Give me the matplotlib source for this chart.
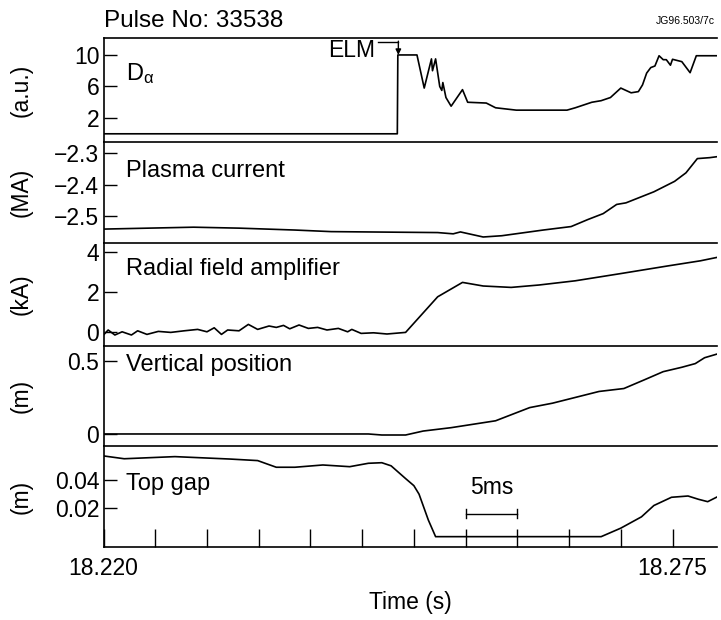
import matplotlib
matplotlib.use("Agg")
import matplotlib.pyplot as plt

plt.rcParams['font.family'] = ['Liberation Sans', 'DejaVu Sans']
plt.rcParams['mathtext.default'] = 'regular'

# ---- data (time in s) ----
t_da = [18.2200, 18.2484, 18.24845, 18.2503, 18.2510, 18.2517, 18.2518, 18.2521,
        18.2525, 18.2527, 18.2528, 18.2531, 18.2536, 18.2547, 18.2552, 18.2570,
        18.2579, 18.2599, 18.2648, 18.2656, 18.2672, 18.2681, 18.2690, 18.2700,
        18.2710, 18.2717, 18.2721, 18.2725, 18.2729, 18.2733, 18.2737, 18.2741,
        18.2744, 18.2748, 18.2750, 18.2759, 18.2767, 18.2773, 18.2793]
da = [0.0, 0.0, 10.0, 10.0, 5.8, 9.5, 8.0, 9.5,
      6.0, 5.5, 6.5, 4.6, 3.5, 5.6, 4.0, 3.9,
      3.3, 3.0, 3.0, 3.3, 4.0, 4.2, 4.6, 5.8,
      5.2, 5.35, 6.2, 7.7, 8.4, 8.6, 9.9, 9.4,
      9.4, 8.7, 9.45, 9.15, 7.75, 9.9, 9.9]

t_ip = [18.2200, 18.2287, 18.2331, 18.2385, 18.2420, 18.2523, 18.2538, 18.2545,
        18.2567, 18.2585, 18.2625, 18.2652, 18.2668, 18.2683, 18.2696, 18.2705,
        18.2732, 18.2752, 18.2763, 18.2774, 18.2786, 18.2793]
ip = [-2.540, -2.534, -2.537, -2.543, -2.548, -2.551, -2.555, -2.549,
      -2.565, -2.561, -2.543, -2.532, -2.510, -2.491, -2.462, -2.457,
      -2.422, -2.389, -2.362, -2.317, -2.314, -2.311]

t_rf = [18.2200, 18.22045, 18.2211, 18.2218, 18.2227, 18.2233, 18.2242, 18.2253,
        18.2265, 18.2278, 18.2291, 18.2300, 18.2307, 18.2314, 18.2320, 18.2331,
        18.2340, 18.2349, 18.2360, 18.2367, 18.2374, 18.2380, 18.2389, 18.2398,
        18.2407, 18.2416, 18.2427, 18.2436, 18.2440, 18.2449, 18.2461, 18.2474,
        18.2492, 18.2523, 18.2547, 18.2567, 18.2594, 18.2621, 18.2656, 18.2701,
        18.2745, 18.2777, 18.2793]
rf = [-0.13, 0.12, -0.13, 0.03, -0.13, 0.08, -0.10, 0.05,
      0.0, 0.08, 0.15, 0.03, 0.23, -0.10, 0.12, 0.08,
      0.40, 0.15, 0.32, 0.25, 0.35, 0.18, 0.37, 0.20,
      0.25, 0.12, 0.20, 0.03, 0.15, -0.05, -0.02, -0.08,
      0.0, 1.78, 2.5, 2.32, 2.25, 2.37, 2.58, 2.95,
      3.32, 3.58, 3.75]

t_zp = [18.2200, 18.2456, 18.2469, 18.2492, 18.2509, 18.2536, 18.2579, 18.2612,
        18.2634, 18.2679, 18.2703, 18.2723, 18.2741, 18.2759, 18.2772, 18.2781,
        18.2793]
zp = [0.0, 0.0, -0.007, -0.007, 0.02, 0.043, 0.09, 0.18,
      0.21, 0.29, 0.31, 0.37, 0.425, 0.455, 0.48, 0.52,
      0.545]

t_gap = [18.2200, 18.2220, 18.2269, 18.2322, 18.2349, 18.2367, 18.2385, 18.2412,
         18.2438, 18.2456, 18.2469, 18.2478, 18.2492, 18.2500, 18.2505, 18.2514,
         18.2521, 18.2681, 18.2700, 18.2720, 18.2732, 18.2749, 18.2765, 18.2775,
         18.2784, 18.2793]
gap = [0.057, 0.055, 0.0565, 0.0548, 0.0537, 0.049, 0.049, 0.0506,
       0.0494, 0.0518, 0.0522, 0.050, 0.041, 0.036, 0.030, 0.0117,
       0.0, 0.0, 0.006, 0.014, 0.022, 0.0278, 0.0287, 0.0264,
       0.0247, 0.028]

series = [(t_da, da), (t_ip, ip), (t_rf, rf), (t_zp, zp), (t_gap, gap)]
names = ['D$_{\\alpha}$', 'Plasma current', 'Radial field amplifier',
         'Vertical position', 'Top gap']
units = ['(a.u.)', '(MA)', '(kA)', '(m)', '(m)']
yticks = [[10, 6, 2], [-2.3, -2.4, -2.5], [4, 2, 0], [0.5, 0], [0.04, 0.02]]
yticklabels = [['10', '6', '2'], ['\u22122.3', '\u22122.4', '\u22122.5'],
               ['4', '2', '0'], ['0.5', '0'], ['0.04', '0.02']]
ylims = [(-1.04, 12.15), (-2.584, -2.2645), (-0.68, 4.47), (-0.082, 0.6),
         (-0.0073, 0.064)]
name_y = [0.66, 0.71, 0.75, 0.81, 0.62]
xticks = [18.220 + 0.005 * i for i in range(12)]

W, H = 721, 620
fig = plt.figure(figsize=(W / 100, H / 100), dpi=100)

# panel edges in pixels
edges = [38, 142, 243, 346, 446, 547]
left, right = 103.5, 717
axes = []
for i in range(5):
    top, bot = edges[i], edges[i + 1]
    ax = fig.add_axes([left / W, 1 - bot / H, (right - left) / W, (bot - top) / H])
    t, v = series[i]
    ax.plot(t, v, color='black', lw=1.2)
    ax.set_xlim(18.220, 18.2793)
    ax.set_ylim(*ylims[i])
    ax.set_yticks(yticks[i])
    ax.set_yticklabels(yticklabels[i])
    ax.tick_params(axis='y', direction='in', length=9, width=1, pad=3, labelsize=16.5)
    ax.spines['right'].set_visible(False)
    for s in ['left', 'top', 'bottom']:
        ax.spines[s].set_linewidth(1.2)
    if i < 4:
        ax.spines['bottom'].set_visible(False)
        ax.set_xticks([])
    ax.text(0.037, name_y[i], names[i], transform=ax.transAxes, fontsize=17,
            va='center', ha='left')
    ax.set_ylabel(units[i], fontsize=16.5)
    ax.yaxis.set_label_coords(-0.116, 0.5)
    axes.append(ax)

# bottom time axis
ax = axes[-1]
ax.set_xticks(xticks)
ax.set_xticklabels(['18.220'] + [''] * 10 + ['18.275'])
ax.tick_params(axis='x', direction='in', length=13, width=1, pad=7, labelsize=16.5)
ax.set_xlabel('Time (s)', fontsize=16.5, labelpad=8)

# 5 ms scale bar
ax.plot([18.255, 18.260], [0.0162, 0.0162], color='black', lw=1)
ax.plot([18.255, 18.255], [0.0132, 0.0192], color='black', lw=1)
ax.plot([18.260, 18.260], [0.0132, 0.0192], color='black', lw=1)
ax.text(18.2575, 0.0265, '5ms', fontsize=16.5, ha='center', va='bottom')

# ELM marker
ax = axes[0]
ax.text(18.2463, 10.6, 'ELM', fontsize=16.5, ha='right', va='center')
ax.plot([18.2465, 18.2485], [11.7, 11.7], color='black', lw=1)
ax.annotate('', xy=(18.2485, 10.0), xytext=(18.2485, 11.75),
            arrowprops=dict(arrowstyle='-|>', color='black', lw=1,
                            mutation_scale=8, shrinkA=0, shrinkB=0))

fig.text(left / W, 1 - 27 / H, 'Pulse No: 33538', fontsize=17.5, ha='left',
         va='baseline')
fig.text(715 / W, 1 - 24 / H, 'JG96.503/7c', fontsize=7.5, ha='right',
         va='baseline')

fig.savefig('out.png', dpi=100)
